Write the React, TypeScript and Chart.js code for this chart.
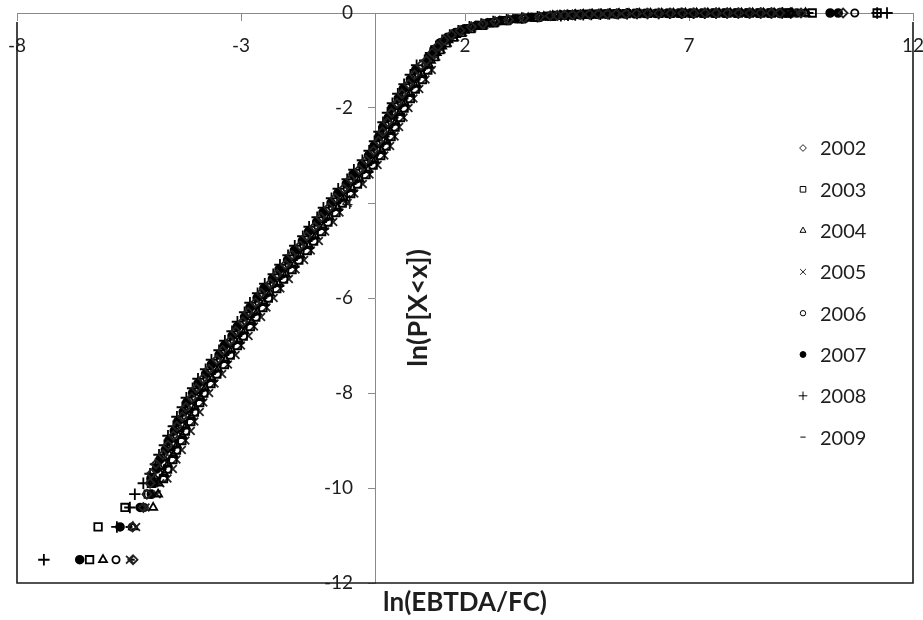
import React, { useEffect, useRef } from 'react';
import { Chart, registerables } from 'chart.js';
import { drawPoint } from 'chart.js/helpers';

Chart.register(...registerables);

// ---- data ----
const years = ['2002', '2003', '2004', '2005', '2006', '2007', '2008', '2009'];

// ln(P[X<x]) levels. Two interleaved sets (years with slightly different sample sizes)
const lnPA = [
  -11.51, -10.82, -10.41, -10.13, -9.90,
  -9.70, -9.50, -9.30, -9.10, -8.90, -8.70, -8.50, -8.30, -8.10, -7.90,
  -7.70, -7.50, -7.30, -7.10, -6.90, -6.70, -6.50, -6.30, -6.10, -5.90,
  -5.70, -5.50, -5.30, -5.10, -4.90, -4.70, -4.50, -4.30, -4.10, -3.90,
  -3.70, -3.50, -3.30, -3.10, -2.90, -2.70, -2.50, -2.30, -2.10, -1.90,
  -1.70, -1.50, -1.30, -1.10,
  -1.00, -0.84, -0.70, -0.57, -0.46, -0.37, -0.29, -0.23, -0.18, -0.14,
  -0.105, -0.078, -0.058, -0.043, -0.031, -0.022, -0.016, -0.011, -0.0075, -0.005,
  -0.0033, -0.0021, -0.0013, -0.0008,
  -0.0004, -0.0002,
  -0.05, -0.037, -0.026, -0.019, -0.0135, -0.0093, -0.0062, -0.0041, -0.0027, -0.0017,
  -0.001, -0.0006,
];
const lnPB = [
  -11.51, -10.82, -10.41, -10.13, -9.90,
  -9.80, -9.60, -9.40, -9.20, -9.00, -8.80, -8.60, -8.40, -8.20, -8.00,
  -7.80, -7.60, -7.40, -7.20, -7.00, -6.80, -6.60, -6.40, -6.20, -6.00,
  -5.80, -5.60, -5.40, -5.20, -5.00, -4.80, -4.60, -4.40, -4.20, -4.00,
  -3.80, -3.60, -3.40, -3.20, -3.00, -2.80, -2.60, -2.40, -2.20, -2.00,
  -1.80, -1.60, -1.40, -1.20,
  -0.92, -0.77, -0.63, -0.51, -0.41, -0.33, -0.26, -0.205, -0.16, -0.122,
  -0.091, -0.068, -0.05, -0.037, -0.026, -0.019, -0.0135, -0.0093, -0.0062, -0.0041,
  -0.0027, -0.0017, -0.001, -0.0006,
  -0.0004, -0.0002,
  -0.043, -0.031, -0.022, -0.016, -0.011, -0.0075, -0.005, -0.0033, -0.0021, -0.0013,
  -0.0008, -0.0004,
];

// ln(EBTDA/FC) quantiles per year
const x2002 = [
  -5.41, -5.42, -5.18, -5.10, -5.03,
  -5.00, -4.90, -4.74, -4.63, -4.51, -4.43, -4.31, -4.23, -4.10, -4.00,
  -3.85, -3.71, -3.54, -3.41, -3.24, -3.12, -2.96, -2.84, -2.68, -2.55,
  -2.35, -2.20, -2.01, -1.87, -1.68, -1.54, -1.36, -1.22, -1.04, -0.90,
  -0.71, -0.55, -0.36, -0.21, -0.04, 0.07, 0.16, 0.27, 0.36, 0.48,
  0.59, 0.74, 0.87, 1.02,
  1.14, 1.27, 1.39, 1.53, 1.70, 1.89, 2.14, 2.40, 2.67, 2.97,
  3.31, 3.66, 3.90, 4.22, 4.58, 4.98, 5.38, 5.83, 6.33, 6.86,
  7.36, 7.86, 8.36, 8.84,
  9.50, 10.44,
  4.06, 4.40, 4.78, 5.18, 5.60, 6.08, 6.59, 7.11, 7.61, 8.11,
  8.60, 9.03,
];
const x2003 = [
  -6.38, -6.19, -5.59, -5.07, -5.00,
  -4.73, -4.64, -4.52, -4.44, -4.32, -4.24, -4.12, -4.04, -3.92, -3.83,
  -3.67, -3.54, -3.37, -3.24, -3.08, -2.95, -2.79, -2.67, -2.51, -2.39,
  -2.20, -2.05, -1.86, -1.71, -1.52, -1.38, -1.20, -1.06, -0.88, -0.74,
  -0.55, -0.40, -0.21, -0.05, 0.12, 0.24, 0.35, 0.44, 0.56, 0.64,
  0.78, 0.89, 1.05, 1.17,
  1.32, 1.44, 1.58, 1.74, 1.92, 2.12, 2.39, 2.64, 2.92, 3.26,
  3.61, 3.93, 4.04, 4.38, 4.78, 5.18, 5.60, 6.08, 6.58, 7.10,
  7.60, 8.10, 8.60, 9.08,
  9.75, 11.20,
  4.21, 4.58, 4.98, 5.39, 5.84, 6.33, 6.84, 7.35, 7.85, 8.35,
  8.84, 9.23,
];
const x2004 = [
  -6.08, -5.41, -4.96, -4.85, -4.84,
  -4.71, -4.63, -4.51, -4.43, -4.31, -4.23, -4.11, -4.03, -3.90, -3.80,
  -3.64, -3.51, -3.34, -3.21, -3.04, -2.92, -2.76, -2.64, -2.48, -2.35,
  -2.15, -2.00, -1.81, -1.67, -1.48, -1.34, -1.16, -1.02, -0.84, -0.70,
  -0.51, -0.35, -0.16, -0.01, 0.14, 0.25, 0.34, 0.45, 0.54, 0.66,
  0.77, 0.92, 1.05, 1.20,
  1.24, 1.37, 1.49, 1.63, 1.80, 1.99, 2.24, 2.50, 2.77, 3.07,
  3.41, 3.76, 3.96, 4.28, 4.64, 5.04, 5.44, 5.89, 6.39, 6.92,
  7.42, 7.92, 8.42, 8.90,
  9.30, 9.60,
  4.12, 4.46, 4.84, 5.24, 5.66, 6.14, 6.65, 7.17, 7.67, 8.17,
  8.66, 9.09,
];
const x2005 = [
  -5.48, -5.34, -5.13, -4.88, -4.80,
  -4.64, -4.52, -4.44, -4.32, -4.24, -4.12, -4.04, -3.92, -3.84, -3.71,
  -3.59, -3.42, -3.29, -3.12, -3.00, -2.83, -2.71, -2.55, -2.43, -2.27,
  -2.12, -1.93, -1.78, -1.59, -1.44, -1.26, -1.12, -0.94, -0.80, -0.62,
  -0.47, -0.28, -0.13, 0.05, 0.20, 0.33, 0.43, 0.53, 0.63, 0.74,
  0.85, 0.98, 1.12, 1.26,
  1.36, 1.48, 1.62, 1.78, 1.96, 2.16, 2.43, 2.68, 2.96, 3.30,
  3.65, 3.97, 4.10, 4.44, 4.84, 5.24, 5.66, 6.14, 6.64, 7.16,
  7.66, 8.16, 8.66, 9.14,
  9.45, 9.55,
  4.27, 4.64, 5.04, 5.45, 5.90, 6.39, 6.90, 7.41, 7.91, 8.41,
  8.90, 9.29,
];
const x2006 = [
  -5.79, -5.43, -5.16, -5.10, -4.97,
  -4.83, -4.71, -4.63, -4.51, -4.43, -4.31, -4.23, -4.11, -4.02, -3.88,
  -3.76, -3.59, -3.46, -3.29, -3.16, -3.00, -2.88, -2.72, -2.60, -2.43,
  -2.27, -2.08, -1.93, -1.75, -1.60, -1.42, -1.28, -1.10, -0.96, -0.78,
  -0.63, -0.43, -0.28, -0.09, 0.04, 0.17, 0.25, 0.37, 0.45, 0.58,
  0.68, 0.84, 0.96, 1.12,
  1.19, 1.32, 1.44, 1.58, 1.75, 1.94, 2.19, 2.45, 2.72, 3.02,
  3.36, 3.71, 4.08, 4.40, 4.76, 5.16, 5.56, 6.01, 6.51, 7.04,
  7.54, 8.04, 8.54, 9.02,
  9.60, 10.70,
  4.24, 4.58, 4.96, 5.36, 5.78, 6.26, 6.77, 7.29, 7.79, 8.29,
  8.78, 9.21,
];
const x2007 = [
  -6.60, -5.70, -5.25, -5.00, -4.94,
  -5.01, -4.89, -4.81, -4.69, -4.61, -4.49, -4.41, -4.29, -4.21, -4.08,
  -3.96, -3.79, -3.66, -3.49, -3.37, -3.20, -3.08, -2.92, -2.80, -2.64,
  -2.49, -2.30, -2.15, -1.96, -1.81, -1.63, -1.49, -1.31, -1.17, -0.99,
  -0.84, -0.65, -0.50, -0.30, -0.15, -0.03, 0.08, 0.17, 0.29, 0.37,
  0.51, 0.62, 0.78, 0.90,
  1.19, 1.31, 1.45, 1.61, 1.79, 1.99, 2.26, 2.51, 2.79, 3.13,
  3.48, 3.80, 4.22, 4.56, 4.96, 5.36, 5.78, 6.26, 6.76, 7.28,
  7.78, 8.28, 8.78, 9.26,
  10.15, 10.33,
  4.39, 4.76, 5.16, 5.57, 6.02, 6.51, 7.02, 7.53, 8.03, 8.53,
  9.02, 9.41,
];
const x2008 = [
  -7.40, -5.77, -5.48, -5.37, -5.18,
  -5.03, -4.91, -4.83, -4.71, -4.63, -4.51, -4.43, -4.31, -4.22, -4.08,
  -3.96, -3.79, -3.66, -3.49, -3.36, -3.20, -3.08, -2.92, -2.80, -2.63,
  -2.47, -2.28, -2.13, -1.95, -1.80, -1.62, -1.48, -1.30, -1.16, -0.98,
  -0.83, -0.63, -0.48, -0.29, -0.14, -0.02, 0.08, 0.17, 0.27, 0.38,
  0.50, 0.64, 0.78, 0.92,
  1.10, 1.23, 1.35, 1.49, 1.66, 1.85, 2.10, 2.36, 2.63, 2.93,
  3.27, 3.62, 4.14, 4.46, 4.82, 5.22, 5.62, 6.07, 6.57, 7.10,
  7.60, 8.10, 8.60, 9.08,
  11.20, 11.42,
  4.30, 4.64, 5.02, 5.42, 5.84, 6.32, 6.83, 7.35, 7.85, 8.35,
  8.84, 9.27,
];
const x2009 = [
  -5.45, -5.50, -5.20, -5.00, -4.90,
  -4.86, -4.74, -4.66, -4.54, -4.46, -4.34, -4.26, -4.14, -4.06, -3.93,
  -3.81, -3.64, -3.51, -3.34, -3.22, -3.05, -2.93, -2.77, -2.65, -2.49,
  -2.34, -2.15, -2.00, -1.81, -1.66, -1.48, -1.34, -1.16, -1.02, -0.84,
  -0.69, -0.50, -0.35, -0.15, 0.00, 0.12, 0.24, 0.32, 0.44, 0.52,
  0.66, 0.77, 0.93, 1.05,
  1.26, 1.38, 1.52, 1.68, 1.86, 2.06, 2.33, 2.58, 2.86, 3.20,
  3.55, 3.87, 4.28, 4.62, 5.02, 5.42, 5.84, 6.32, 6.82, 7.34,
  7.84, 8.34, 8.84, 9.32,
  9.40, 9.70,
  4.45, 4.82, 5.22, 5.63, 6.08, 6.57, 7.08, 7.59, 8.09, 8.59,
  9.08, 9.47,
];
const seriesX = [x2002, x2003, x2004, x2005, x2006, x2007, x2008, x2009];
const seriesY = [lnPA, lnPB, lnPA, lnPB, lnPA, lnPB, lnPA, lnPB];

const xTicks = [-8, -3, 2, 7, 12];
const yTicks = [0, -2, -4, -6, -8, -10, -12];
const xTitle = 'ln(EBTDA/FC)';
const yTitle = 'ln(P[X<x])';

// ---- styles ----
const markers = [
  { pointStyle: 'rectRot', radius: 4.5, fill: 'rgba(0,0,0,0)', stroke: '#222' },
  { pointStyle: 'rect', radius: 5.3, fill: 'rgba(0,0,0,0)', stroke: '#000' },
  { pointStyle: 'triangle', radius: 4.6, fill: 'rgba(0,0,0,0)', stroke: '#000' },
  { pointStyle: 'crossRot', radius: 5.4, fill: 'rgba(0,0,0,0)', stroke: '#222' },
  { pointStyle: 'circle', radius: 3.6, fill: 'rgba(0,0,0,0)', stroke: '#000' },
  { pointStyle: 'circle', radius: 3.9, fill: '#000', stroke: '#000' },
  { pointStyle: 'cross', radius: 5.7, fill: 'rgba(0,0,0,0)', stroke: '#000' },
  { pointStyle: 'line', radius: 3.5, fill: '#000', stroke: '#000' },
];

const FONT = 'Lato, "Open Sans", sans-serif';
const TEXT = '#1e1e1e';
const AXIS = '#8a8a8a';
const Y_LABEL_GAP = -0.5; // x-value where the y tick labels end (left of the y axis)

const zeroPadding = (scale: any) => {
  scale.paddingLeft = 0;
  scale.paddingRight = 0;
  scale.paddingTop = 0;
  scale.paddingBottom = 0;
};

const overlay = {
  id: 'overlay',
  beforeDatasetsDraw(chart: any) {
    const { ctx, chartArea: a } = chart;
    ctx.save();
    ctx.strokeStyle = '#1a1a1a';
    ctx.lineWidth = 1.6;
    ctx.beginPath();
    ctx.moveTo(a.left, a.top + 9);
    ctx.lineTo(a.left, a.bottom);
    ctx.lineTo(a.right, a.bottom);
    ctx.lineTo(a.right, a.top + 9);
    ctx.stroke();
    ctx.restore();
  },
  afterDraw(chart: any) {
    const { ctx, chartArea: a, scales } = chart;
    ctx.save();
    ctx.fillStyle = TEXT;
    ctx.textAlign = 'center';
    ctx.textBaseline = 'middle';
    ctx.font = `bold 26px ${FONT}`;
    ctx.fillText(xTitle, a.left + a.width * 0.5, a.bottom + 20);
    ctx.save();
    ctx.font = `bold 27px ${FONT}`;
    ctx.translate(scales.x.getPixelForValue(0) + 43, (a.top + a.bottom) / 2 + 10);
    ctx.rotate(-Math.PI / 2);
    ctx.fillText(yTitle, 0, 0);
    ctx.restore();
    // legend
    const mx = a.right - 110;
    const y0 = a.top + 135;
    const step = 41.3;
    ctx.font = `20px ${FONT}`;
    ctx.textAlign = 'left';
    years.forEach((label, i) => {
      const m = markers[i];
      const y = y0 + i * step;
      ctx.save();
      ctx.fillStyle = m.fill;
      ctx.strokeStyle = m.stroke;
      ctx.lineWidth = 1;
      drawPoint(ctx, { pointStyle: m.pointStyle, radius: m.radius * 0.75, rotation: 0, borderWidth: m.pointStyle === 'line' ? 2 : 1.1 } as any, mx, y);
      ctx.restore();
      ctx.fillStyle = TEXT;
      ctx.fillText(label, mx + 17, y + 1);
    });
    ctx.restore();
  },
};

export default function App() {
  const ref = useRef<HTMLCanvasElement | null>(null);
  useEffect(() => {
    document.body.style.margin = '0';
    const canvas = ref.current!;
    const datasets = years.map((label, i) => {
      const xs = seriesX[i];
      const ys = seriesY[i];
      const n = Math.min(xs.length, ys.length);
      const data = [] as { x: number; y: number }[];
      for (let k = 0; k < n; k++) data.push({ x: xs[k], y: ys[k] });
      const m = markers[i];
      return {
        label,
        data,
        xAxisID: 'x',
        yAxisID: 'y',
        showLine: false,
        pointStyle: m.pointStyle,
        pointRadius: m.radius,
        pointHoverRadius: m.radius,
        pointBorderWidth: m.pointStyle === 'line' ? 2 : 1.8,
        borderColor: m.stroke,
        backgroundColor: m.fill,
        clip: false,
      };
    });
    const yTickCfg = (scale: any) => {
      scale.ticks = yTicks.map((v) => ({ value: v }));
    };
    const chart = new Chart(canvas, {
      type: 'scatter',
      data: { datasets: datasets as any },
      plugins: [overlay],
      options: {
        responsive: false,
        animation: false,
        layout: { padding: { left: 17, top: 13, right: 10, bottom: 37 } },
        plugins: { legend: { display: false }, tooltip: { enabled: false } },
        scales: {
          x: {
            type: 'linear',
            min: -8,
            max: 12,
            position: { y: 0 } as any,
            afterBuildTicks: (scale: any) => {
              scale.ticks = xTicks.map((v) => ({ value: v }));
            },
            afterFit: zeroPadding,
            ticks: { color: TEXT, font: { family: FONT, size: 19 }, padding: 14.5, maxRotation: 0, autoSkip: false },
            grid: { drawOnChartArea: false, drawTicks: true, tickLength: 7, color: AXIS },
            border: { display: true, color: AXIS, width: 1 },
          },
          y: {
            type: 'linear',
            min: -12,
            max: 0,
            position: { x: 0 } as any,
            afterBuildTicks: yTickCfg,
            afterFit: zeroPadding,
            ticks: { display: false },
            grid: { drawOnChartArea: false, drawTicks: true, tickLength: 7, color: AXIS },
            border: { display: true, color: AXIS, width: 1 },
          },
          yLabels: {
            type: 'linear',
            axis: 'y',
            min: -12,
            max: 0,
            position: { x: Y_LABEL_GAP } as any,
            afterBuildTicks: yTickCfg,
            afterFit: zeroPadding,
            ticks: { color: TEXT, font: { family: FONT, size: 19 }, autoSkip: false },
            grid: { display: false },
            border: { display: false },
          },
        },
      },
    });
    return () => chart.destroy();
  }, []);
  return (
    <div style={{ width: 923, height: 620 }}>
      <canvas ref={ref} width={923} height={620} style={{ display: 'block' }} />
    </div>
  );
}
